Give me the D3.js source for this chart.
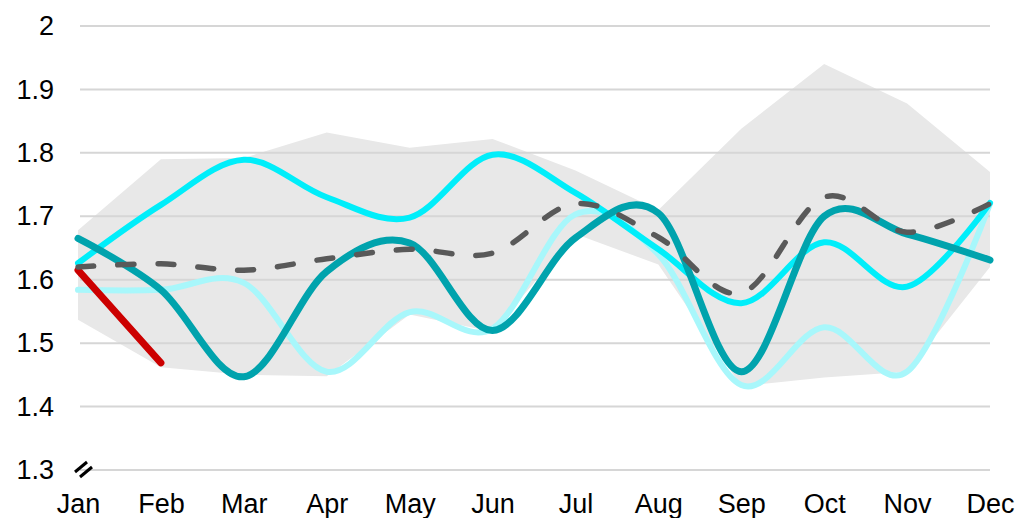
<!DOCTYPE html>
<html>
<head>
<meta charset="utf-8">
<script src="https://cdn.jsdelivr.net/npm/d3@7"></script>
<style>
  html, body { margin: 0; padding: 0; background: #fff; }
  svg { display: block; font-family: "Liberation Sans", Arial, sans-serif; }
</style>
</head>
<body>
<svg id="chart" width="1022" height="518"></svg>
<script>
// ---- data ----
const months = ["Jan","Feb","Mar","Apr","May","Jun","Jul","Aug","Sep","Oct","Nov","Dec"];
const yTicks = [1.3, 1.4, 1.5, 1.6, 1.7, 1.8, 1.9, 2.0];

const bandUpper = [1.678, 1.790, 1.792, 1.832, 1.808, 1.822, 1.772, 1.710, 1.838, 1.940, 1.878, 1.770];
const bandLower = [1.537, 1.462, 1.450, 1.448, 1.545, 1.518, 1.672, 1.624, 1.432, 1.446, 1.455, 1.620];

const seriesCyan      = [1.626, 1.718, 1.789, 1.730, 1.698, 1.797, 1.737, 1.648, 1.563, 1.659, 1.589, 1.721];
const seriesLightCyan = [1.584, 1.584, 1.595, 1.455, 1.549, 1.523, 1.703, 1.640, 1.434, 1.525, 1.455, 1.720];
const seriesTeal      = [1.665, 1.584, 1.447, 1.613, 1.658, 1.520, 1.666, 1.705, 1.455, 1.700, 1.672, 1.631];
const seriesAverage   = [1.620, 1.625, 1.615, 1.633, 1.648, 1.642, 1.720, 1.667, 1.579, 1.730, 1.675, 1.720];
const seriesCurrent   = [1.615, 1.469];

// ---- setup ----
const svg = d3.select("#chart");
const x = d3.scalePoint().domain(months).range([78, 990]);
const y = d3.scaleLinear().domain([1.3, 2.0]).range([470, 26]);

// band
const bandData = months.map((m, i) => ({m, lo: bandLower[i], hi: bandUpper[i]}));
svg.append("path")
  .datum(bandData)
  .attr("fill", "#e8e8e8")
  .attr("d", d3.area().x(d => x(d.m)).y0(d => y(d.lo)).y1(d => y(d.hi)));

// gridlines
svg.append("g").selectAll("line").data(yTicks).join("line")
  .attr("x1", 80).attr("x2", 990)
  .attr("y1", d => y(d)).attr("y2", d => y(d))
  .attr("stroke", "#d6d6d6").attr("stroke-width", 2);

// axes
const yAxis = d3.axisLeft(y).tickValues(yTicks).tickSize(0).tickPadding(26)
  .tickFormat(d => d === 2 ? "2" : d3.format(".1f")(d));
const gy = svg.append("g").attr("transform", "translate(80,0)").call(yAxis);
gy.select(".domain").remove();
gy.selectAll("text").attr("font-size", 27).attr("fill", "#000")
  .attr("font-family", "'Liberation Sans', Arial, sans-serif");

const xAxis = d3.axisBottom(x).tickSize(0).tickPadding(24);
const gx = svg.append("g").attr("transform", "translate(0,470)").call(xAxis);
gx.select(".domain").remove();
gx.selectAll("text").attr("font-size", 27).attr("fill", "#000")
  .attr("font-family", "'Liberation Sans', Arial, sans-serif");

// axis break marks
const bx = x("Jan"), by = y(1.3);
[[-2, 2], [3, 7]].forEach(([dx, dy]) => {
  svg.append("line")
    .attr("x1", bx + dx - 1).attr("y1", by + dy)
    .attr("x2", bx + dx + 11).attr("y2", by + dy - 10)
    .attr("stroke", "#000").attr("stroke-width", 3);
});

// lines
const line = d3.line().x((d, i) => x(months[i])).y(d => y(d)).curve(d3.curveCardinal.tension(0));

function draw(data, color, width, dash) {
  const p = svg.append("path").datum(data)
    .attr("fill", "none").attr("stroke", color).attr("stroke-width", width)
    .attr("stroke-linecap", "round").attr("stroke-linejoin", "round")
    .attr("d", line);
  if (dash) p.attr("stroke-dasharray", dash);
}
draw(seriesLightCyan, "#a8f7fb", 6);
draw(seriesCyan, "#00eefa", 6);
draw(seriesTeal, "#00a3ad", 7);
draw(seriesCurrent, "#cc0000", 7);
draw(seriesAverage, "#595959", 5.5, "16,24");
</script>
</body>
</html>
